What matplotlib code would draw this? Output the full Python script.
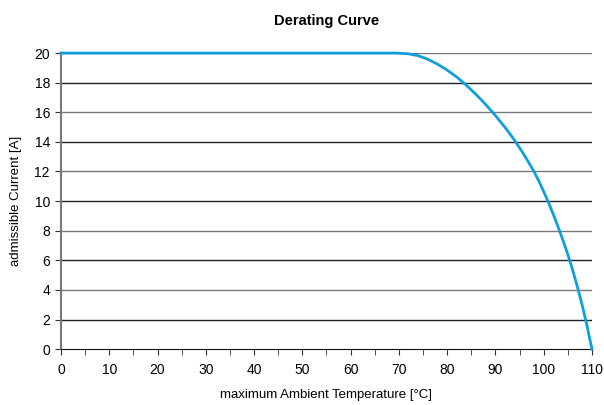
import matplotlib
matplotlib.use("Agg")
import matplotlib.pyplot as plt
from matplotlib.ticker import MultipleLocator

plt.rcParams['font.family'] = ['Liberation Sans', 'DejaVu Sans']

# Derating curve points
temperature = [0, 10, 20, 30, 40, 50, 60, 69.5, 72, 74, 76, 78, 80, 82, 84, 86, 88, 90,
               92, 94, 96, 98, 99, 100, 101, 102, 103, 104, 105, 106, 107, 108, 109, 110]
current = [20, 20, 20, 20, 20, 20, 20, 20, 19.95, 19.82, 19.58, 19.25, 18.85, 18.38, 17.82,
           17.2, 16.52, 15.78, 14.98, 14.1, 13.1, 12.0, 11.35, 10.65, 9.9, 9.1, 8.25, 7.35,
           6.4, 5.35, 4.2, 2.95, 1.55, 0]

x_ticks = list(range(0, 111, 10))
y_ticks = list(range(0, 21, 2))

fig = plt.figure(figsize=(6.04, 4.05), dpi=100)
ax = fig.add_axes([0.101, 0.138, 0.879, 0.731])

for i, y in enumerate(y_ticks[1:]):
    ax.axhline(y, color='#222222' if i % 2 == 0 else '#777777', lw=1.0, zorder=1)

ax.plot(temperature, current, color='#0fa0dc', lw=2, zorder=3, clip_on=False,
        solid_joinstyle='round')

ax.set_xlim(0, 110)
ax.set_ylim(0, 20)
ax.set_xticks(x_ticks)
ax.set_yticks(y_ticks)
ax.xaxis.set_minor_locator(MultipleLocator(5))
ax.tick_params(axis='both', which='both', direction='out', labelsize=10, color='#333333')
ax.tick_params(axis='x', which='both', length=4, pad=6)
ax.tick_params(axis='y', length=4, pad=4)

for side in ['top', 'right']:
    ax.spines[side].set_visible(False)
ax.spines['left'].set_color('#777777')
ax.spines['left'].set_linewidth(1.5)
ax.spines['bottom'].set_color('#111111')

ax.set_title("Derating Curve", fontsize=10.5, fontweight='bold', pad=20)
ax.set_xlabel("maximum Ambient Temperature [°C]", fontsize=9.5, labelpad=9)
ax.set_ylabel("admissible Current [A]", fontsize=9.5, labelpad=9)

fig.savefig("out.png", dpi=100)
plt.close(fig)
